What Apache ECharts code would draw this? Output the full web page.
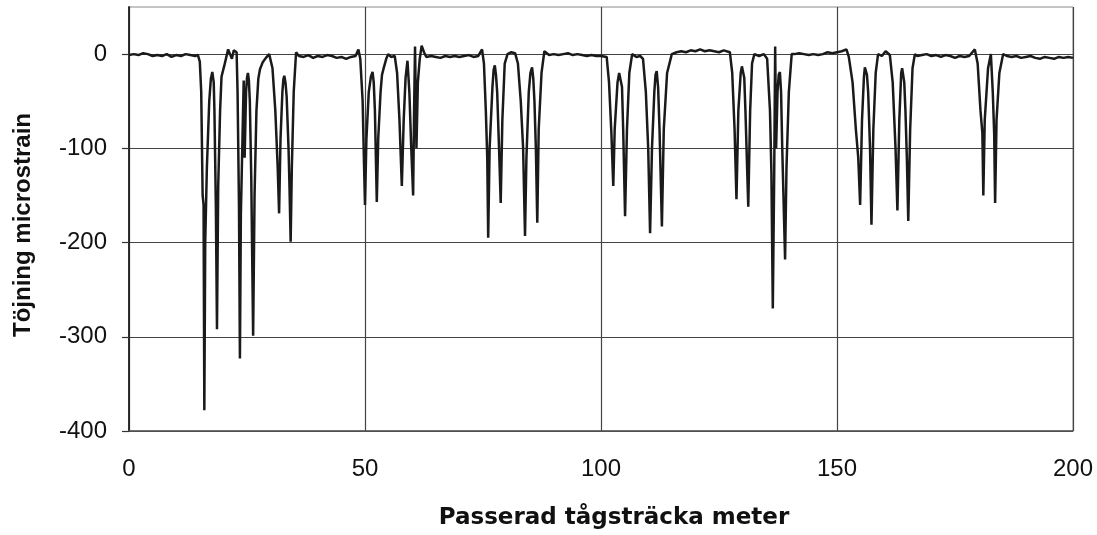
<!DOCTYPE html>
<html>
<head>
<meta charset="utf-8">
<title>Töjning microstrain</title>
<script src="https://cdn.jsdelivr.net/npm/echarts@6/dist/echarts.min.js"></script>
<style>
  html, body { margin: 0; padding: 0; background: #fff; }
  #chart { width: 1097px; height: 535px; }
</style>
</head>
<body>
<div id="chart"></div>
<script>
// Passed distance along the train (m)
const distance = [
  0, 1, 2, 3, 4, 5, 6, 7, 8, 9, 10, 11, 12, 13, 14, 14.6,
  15.0, 15.3, 15.6, 15.8, 15.96, 16.15, 16.5, 17.0, 17.35, 17.65, 17.95, 18.1, 18.4, 18.64, 18.9, 19.3, 19.6,
  20.2, 21.0, 21.4, 21.8, 22.2, 22.8, 23.0, 23.3, 23.5, 23.7, 24.0, 24.3, 24.5, 24.8, 25.0, 25.2, 25.4,
  25.6, 25.9, 26.3, 26.6, 27.0, 27.4, 27.75, 28.3, 29.0, 29.7, 30.4, 31.0, 31.5, 31.8, 32.1, 32.5, 32.7,
  32.9, 33.15, 33.4, 33.8, 34.0, 34.25, 34.5, 34.9, 35.4,
  36, 37, 38, 39, 40, 41, 42, 43, 44, 45, 46, 47, 48, 48.6,
  49.0, 49.5, 49.8, 50.0, 50.3, 50.8, 51.25, 51.6, 51.85, 52.1, 52.5, 52.8, 53.3, 53.6, 53.9, 54.5, 54.9, 55.5,
  56.3, 56.8, 57.3, 57.8, 58.2, 58.6, 59.0, 59.4, 59.8, 60.2, 60.4, 60.6, 60.9, 61.2, 61.6,
  62.0, 62.5,
  63, 64, 65, 66, 67, 68, 69, 70, 71, 72, 73, 74, 74.8,
  75.2, 75.6, 75.9, 76.1, 76.4, 77.0, 77.25, 77.5, 77.75, 78.0, 78.4, 78.75, 79.1, 79.6, 80.2, 81.0, 81.8,
  82.4, 83.0, 83.5, 83.9, 84.2, 84.7, 85.05, 85.4, 85.65, 85.9, 86.2, 86.5, 86.8, 87.4, 88.0,
  89, 90, 91, 92, 93, 94, 95, 96, 97, 98, 99, 100, 101.2,
  101.7, 102.2, 102.6, 102.9, 103.5, 103.85, 104.2, 104.45, 104.7, 105.1, 105.5, 106.0, 106.6, 107.5, 108.3,
  108.9, 109.5, 110.0, 110.4, 110.8, 111.3, 111.55, 111.8, 112.1, 112.4, 112.9, 113.3, 114.0, 115.0,
  116, 117, 118, 119, 120, 121, 122, 123, 124, 125, 126, 127.3,
  127.8, 128.3, 128.7, 129.1, 129.6, 129.85, 130.1, 130.35, 130.6, 131.2, 131.6, 132.0, 132.5, 133.5, 134.5,
  135.2, 135.8, 136.1, 136.4, 136.7, 136.9, 137.1, 137.4, 137.65, 137.9, 138.15, 138.4, 139.0, 139.3, 139.8, 140.4,
  141, 142, 143, 144, 145, 146, 147, 148, 149, 150, 151, 152.0,
  152.5, 153.3, 154.0, 154.5, 154.9, 155.3, 155.7, 155.9, 156.1, 156.35, 156.6, 157.0, 157.3, 157.7, 158.2,
  158.7, 159.5, 160.3, 161.2, 161.8, 162.4, 162.8, 163.2, 163.6, 163.8, 164.0, 164.25, 164.5, 164.8, 165.1,
  165.5, 166.0, 166.5,
  167, 168, 169, 170, 171, 172, 173, 174, 175, 176, 177, 178, 179.2,
  179.8, 180.4, 180.8, 181.0, 181.3, 182.0, 182.6, 183.0, 183.3, 183.5, 183.8, 184.4, 185.2,
  186, 187, 188, 189, 190, 191, 192, 193, 194, 195, 196, 197, 198, 199, 200
];

// Measured strain (microstrain) at each distance
const strain = [
  -1, 0, -1, 1, 0, -2, -1, -2, 0, -3, -1, -2, 0, -1, -2, -1,
  -8, -40, -150, -160, -378, -200, -120, -50, -26, -19, -30, -60, -160, -292, -140, -60, -24,
  -12, 5, 0, -5, 4, 2, -40, -160, -323, -170, -100, -28, -110, -40, -25, -20, -28,
  -50, -130, -299, -150, -60, -26, -16, -9, -4, 0, -15, -60, -120, -169, -90, -40, -27,
  -23, -30, -45, -100, -140, -199, -120, -40, 2,
  -2, -3, -1, -4, -2, -3, -1, -2, -4, -3, -5, -3, -2, 5,
  -5, -50, -118, -160, -90, -40, -24, -19, -30, -60, -157, -90, -40, -22, -16, -5, 0, -3,
  -2, -20, -70, -140, -70, -25, -7, -40, -100, -150, -60, 8, -100, -30, -5,
  9, 2,
  -3, -2, -3, -4, -2, -3, -2, -3, -2, -1, -3, -2, 5,
  -10, -60, -110, -195, -100, -35, -17, -12, -22, -40, -100, -158, -70, -10, 0, 2, 1,
  -10, -50, -100, -193, -110, -40, -20, -14, -26, -50, -100, -179, -80, -20, 3,
  -1, 0, -1, 0, 1, -1, 0, -1, -2, -1, -2, -2, -3,
  -30, -84, -140, -80, -30, -20, -18, -35, -80, -172, -80, -20, 0, -3, -2,
  -5, -40, -100, -190, -100, -40, -22, -18, -35, -80, -183, -80, -20, 0,
  2, 3, 2, 4, 3, 5, 3, 4, 3, 2, 4, 2,
  -20, -80, -154, -60, -20, -13, -12, -25, -60, -162, -60, -10, 0, -2, 0,
  -5, -60, -125, -270, -125, 8, -100, -40, -22, -19, -40, -100, -218, -120, -40, 0,
  0, 1, 0, -1, 0, -1, 0, 2, 1, 2, 3, 5,
  -3, -30, -80, -110, -160, -70, -25, -14, -12, -22, -40, -100, -181, -80, -20,
  0, -2, 3, -1, -30, -100, -166, -70, -20, -15, -14, -30, -60, -110, -177,
  -80, -15, 0,
  -2, -1, 0, -2, -1, -3, -1, -2, -4, -2, -3, -2, 5,
  -10, -60, -84, -150, -70, -15, 0, -40, -84, -158, -70, -20, 0,
  -2, -3, -2, -4, -3, -2, -4, -5, -3, -4, -5, -3, -4, -3, -4
];

// Axis tick values
const xTicks = [0, 50, 100, 150, 200];
const yTicks = [-400, -300, -200, -100, 0];

const xTitle = 'Passerad tågsträcka meter';
const yTitle = 'Töjning microstrain';

const points = distance.map((d, i) => [d, strain[i]]);

const chart = echarts.init(document.getElementById('chart'), null, { renderer: 'canvas' });

const labelFont = {
  fontFamily: '"Liberation Sans", Arial, sans-serif',
  fontSize: 24,
  color: '#111'
};

chart.setOption({
  animation: false,
  backgroundColor: '#ffffff',
  grid: {
    left: 129,
    right: 24,
    top: 7,
    bottom: 101,
    show: true,
    borderColor: '#8a8a8a',
    borderWidth: 1,
    backgroundColor: 'transparent'
  },
  xAxis: {
    type: 'value',
    min: 0,
    max: 200,
    interval: 50,
    name: xTitle,
    nameLocation: 'middle',
    nameGap: 76,
    nameTextStyle: {
      fontFamily: '"DejaVu Sans", sans-serif',
      fontWeight: 'bold',
      fontSize: 23,
      color: '#111',
      padding: [0, 0, 0, 26]
    },
    axisLine: { show: true, onZero: false, lineStyle: { color: '#555', width: 1.5 } },
    axisTick: { show: false },
    axisLabel: Object.assign({ margin: 26, customValues: xTicks }, labelFont),
    splitLine: { show: true, lineStyle: { color: '#444', width: 1.2 } }
  },
  yAxis: {
    type: 'value',
    min: -400,
    max: 50,
    interval: 100,
    name: yTitle,
    nameLocation: 'middle',
    nameGap: 94,
    nameTextStyle: {
      fontFamily: '"Liberation Sans", Arial, sans-serif',
      fontWeight: 'bold',
      fontSize: 24,
      color: '#111',
      padding: [0, 12, 0, 0]
    },
    axisLine: { show: true, onZero: false, lineStyle: { color: '#222', width: 1.8 } },
    axisTick: { show: true, length: 7, inside: false, customValues: yTicks, lineStyle: { color: '#333', width: 1.2 } },
    axisLabel: Object.assign({ margin: 22, customValues: yTicks, padding: [0, 0, 6, 0] }, labelFont),
    splitLine: { show: true, lineStyle: { color: '#444', width: 1.2 } }
  },
  series: [{
    type: 'line',
    data: points,
    showSymbol: false,
    symbol: 'none',
    smooth: false,
    lineStyle: { color: '#1a1a1a', width: 2.5 },
    z: 5
  }]
});
</script>
</body>
</html>
